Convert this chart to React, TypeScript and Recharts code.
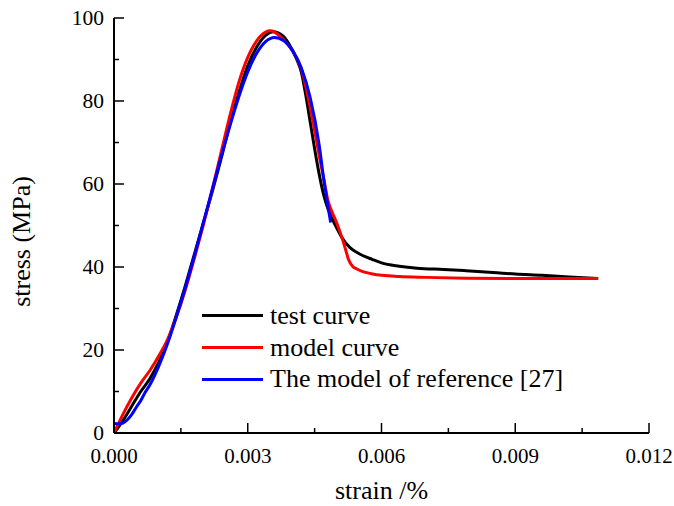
import React from 'react';
import { LineChart, Line, XAxis, YAxis, Legend } from 'recharts';

// ---- tick definitions ----
const xTicks = [0, 0.0015, 0.003, 0.0045, 0.006, 0.0075, 0.009, 0.0105, 0.012];
const xTickLabels = ['0.000', '', '0.003', '', '0.006', '', '0.009', '', '0.012'];
const yTicks = [0, 10, 20, 30, 40, 50, 60, 70, 80, 90, 100];
const yTickLabels = ['0', '', '20', '', '40', '', '60', '', '80', '', '100'];

// ---- series: test curve ----
const testStrain = [0, 0.0002, 0.0004, 0.0006, 0.0008, 0.001, 0.0012, 0.0014, 0.0016, 0.0018, 0.002, 0.0022, 0.0024, 0.0026, 0.0028, 0.003, 0.0032, 0.0034, 0.00357, 0.0038, 0.004, 0.0041, 0.0042, 0.0043, 0.0044, 0.0045, 0.0046, 0.0047, 0.0048, 0.0049, 0.005, 0.0051, 0.0053, 0.0055, 0.0058, 0.006, 0.0064, 0.0068, 0.0074, 0.0079, 0.0085, 0.009, 0.0096, 0.0102, 0.01086];
const testStress = [0, 3, 6.5, 10, 13, 17, 22, 28.5, 35.5, 43, 50.5, 58, 66, 74.5, 82, 88.5, 93, 95.8, 96.7, 95.6, 92.3, 90, 87, 81.5, 75, 68.5, 62.5, 57.5, 54, 51.5, 49.3, 47.3, 44.6, 43.2, 41.8, 41, 40.2, 39.7, 39.4, 39.1, 38.7, 38.3, 38, 37.6, 37.2];

// ---- series: model curve ----
const modelStrain = [0, 0.0002, 0.0004, 0.0006, 0.0008, 0.001, 0.0012, 0.0014, 0.0016, 0.0018, 0.002, 0.0022, 0.0024, 0.0026, 0.0028, 0.003, 0.0032, 0.0034, 0.0035, 0.0036, 0.0038, 0.004, 0.0042, 0.0044, 0.0046, 0.0047, 0.0048, 0.0049, 0.005, 0.0051, 0.0052, 0.00526, 0.00535, 0.00545, 0.0058, 0.0064, 0.007, 0.0079, 0.009, 0.01086];
const modelStress = [0, 4.5, 8.5, 12, 15, 18.5, 22.5, 28, 34.5, 42, 50, 58.5, 67.5, 76.5, 84.5, 90.5, 94.5, 96.6, 96.9, 96.6, 94.8, 92.2, 87.8, 78.5, 67, 61.5, 56, 53, 50.5, 47.5, 44, 41.8, 40.2, 39.5, 38.3, 37.7, 37.5, 37.3, 37.2, 37.2];

// ---- series: the model of reference [27] ----
const refStrain = [0, 0.0001, 0.0002, 0.0003, 0.0004, 0.0005, 0.0006, 0.0007, 0.0008, 0.001, 0.0012, 0.0014, 0.0016, 0.0018, 0.002, 0.0022, 0.0024, 0.0026, 0.0028, 0.003, 0.0032, 0.0034, 0.0036, 0.0038, 0.004, 0.0042, 0.0044, 0.0046, 0.0047, 0.00486];
const refStress = [2.3, 2.2, 2.4, 3.2, 4.5, 6.2, 7.8, 9.8, 11.5, 16, 21.5, 28, 35, 42.5, 50.5, 58.5, 66.5, 74, 81, 87, 91.5, 94.3, 95.3, 94.6, 92.2, 88, 80.8, 69.5, 61.5, 50.7];

const seriesNames = ['test curve', 'model curve', 'The model of reference [27]'];
const seriesColors = ['#000000', '#ff0000', '#0000ff'];

const toPoints = (xs: number[], ys: number[]) => xs.map((x, i) => ({ x, y: ys[i] }));
const testData = toPoints(testStrain, testStress);
const modelData = toPoints(modelStrain, modelStress);
const refData = toPoints(refStrain, refStress);

const FONT = '"Liberation Serif", "Times New Roman", serif';

const XTick = (props: any) => {
  const { x, y, payload } = props;
  const idx = xTicks.findIndex((v) => Math.abs(v - payload.value) < 1e-9);
  const label = idx >= 0 ? xTickLabels[idx] : '';
  const major = label !== '';
  return (
    <g>
      <line x1={x} x2={x} y1={y} y2={y - (major ? 10 : 5)} stroke="#000" strokeWidth={1.5} />
      {major && (
        <text x={x} y={y + 30} textAnchor="middle" fontSize={21} fontFamily={FONT} fill="#000">
          {label}
        </text>
      )}
    </g>
  );
};

const YTick = (props: any) => {
  const { x, y, payload } = props;
  const idx = yTicks.findIndex((v) => Math.abs(v - payload.value) < 1e-9);
  const label = idx >= 0 ? yTickLabels[idx] : '';
  const major = label !== '';
  return (
    <g>
      <line x1={x} x2={x + (major ? 10 : 5)} y1={y} y2={y} stroke="#000" strokeWidth={1.5} />
      {major && (
        <text x={x - 10} y={y} dy={6.5} textAnchor="end" fontSize={21.5} fontFamily={FONT} fill="#000">
          {label}
        </text>
      )}
    </g>
  );
};

const XTitle = (props: any) => {
  const { viewBox } = props;
  const cx = viewBox.x + viewBox.width / 2;
  return (
    <text x={cx} y={viewBox.y + 66} textAnchor="middle" fontSize={26} fontFamily={FONT} fill="#000">
      strain /%
    </text>
  );
};

const YTitle = (props: any) => {
  const { viewBox } = props;
  const bx = viewBox.x + 30;
  const cy = viewBox.y + viewBox.height / 2 + 16;
  return (
    <text
      x={bx}
      y={cy}
      transform={`rotate(-90, ${bx}, ${cy})`}
      textAnchor="middle"
      fontSize={26}
      fontFamily={FONT}
      fill="#000"
    >
      stress (MPa)
    </text>
  );
};

const LegendContent = () => (
  <div style={{ fontFamily: FONT, fontSize: 26, color: '#000' }}>
    {seriesNames.map((name, i) => (
      <div key={name} style={{ display: 'flex', alignItems: 'center', height: 31.7, lineHeight: '31.7px', whiteSpace: 'nowrap' }}>
        <span style={{ display: 'inline-block', width: 61, height: 3, background: seriesColors[i], marginRight: 7 }} />
        <span>{name}</span>
      </div>
    ))}
  </div>
);

export default function App() {
  return (
    <div style={{ position: 'absolute', left: 0, top: 0, width: 674, height: 506, background: '#fff' }}>
      <LineChart width={674} height={506} margin={{ top: 18, right: 25, bottom: 0, left: 0 }}>
        <XAxis
          type="number"
          dataKey="x"
          domain={[0, 0.012]}
          ticks={xTicks}
          interval={0}
          allowDataOverflow
          height={73}
          tickSize={0}
          tickMargin={0}
          tickLine={false}
          axisLine={{ stroke: '#000', strokeWidth: 2 }}
          tick={<XTick />}
          label={<XTitle />}
        />
        <YAxis
          type="number"
          dataKey="y"
          domain={[0, 100]}
          ticks={yTicks}
          interval={0}
          allowDataOverflow
          width={114}
          tickSize={0}
          tickMargin={0}
          tickLine={false}
          axisLine={{ stroke: '#000', strokeWidth: 2 }}
          tick={<YTick />}
          label={<YTitle />}
        />
        <Legend
          layout="vertical"
          align="center"
          verticalAlign="middle"
          content={<LegendContent />}
          wrapperStyle={{ left: 202, top: 300, width: 'auto', height: 'auto' }}
        />
        <Line data={testData} dataKey="y" name={seriesNames[0]} type="monotone" stroke={seriesColors[0]} strokeWidth={3} dot={false} isAnimationActive={false} />
        <Line data={modelData} dataKey="y" name={seriesNames[1]} type="monotone" stroke={seriesColors[1]} strokeWidth={3} dot={false} isAnimationActive={false} />
        <Line data={refData} dataKey="y" name={seriesNames[2]} type="monotone" stroke={seriesColors[2]} strokeWidth={3} dot={false} isAnimationActive={false} />
      </LineChart>
    </div>
  );
}
